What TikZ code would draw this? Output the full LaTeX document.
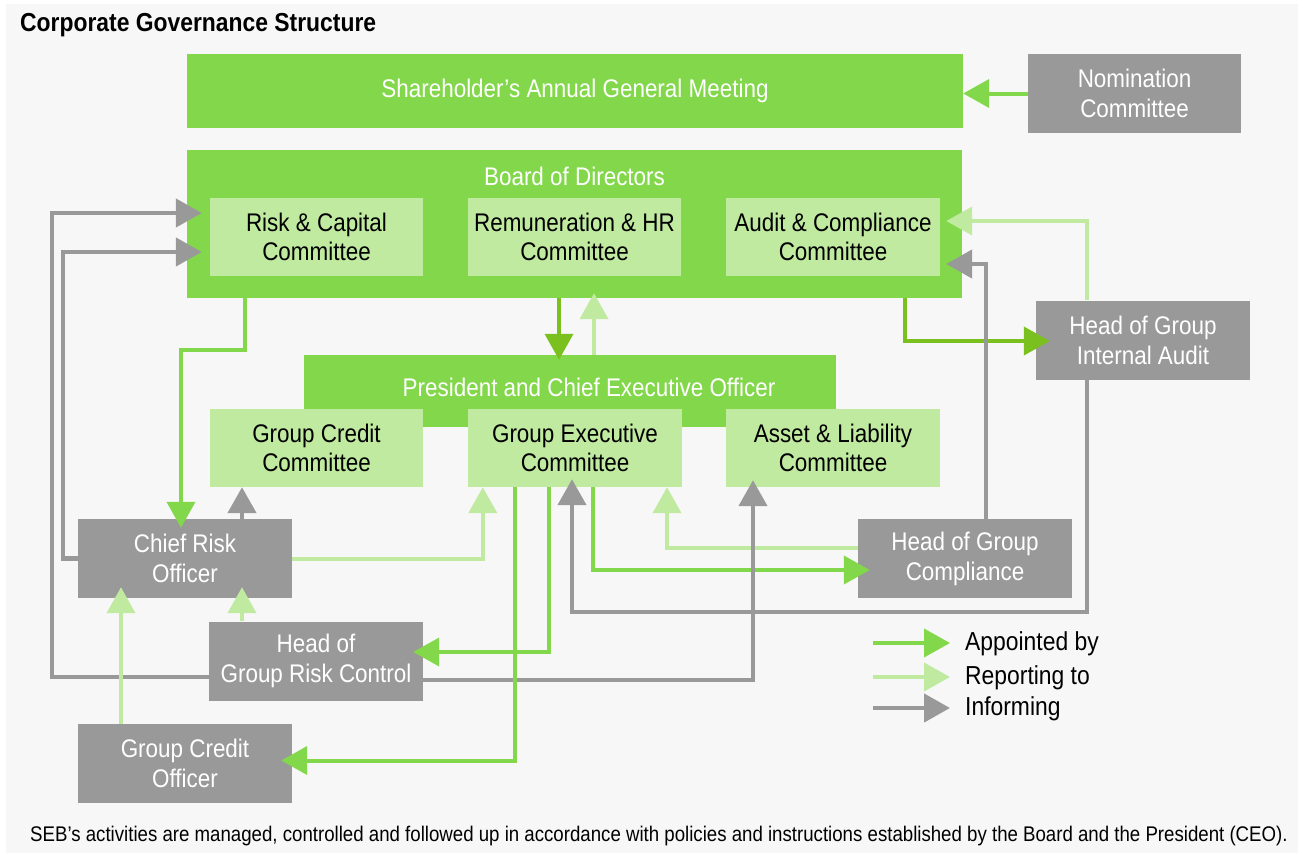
\documentclass[tikz,border=0pt]{standalone}
\usepackage{fontspec}
\setmainfont{Liberation Sans}[FakeStretch=0.88]
\usetikzlibrary{arrows.meta,calc}

\definecolor{govgreen}{RGB}{130,216,74}
\definecolor{darkgreen}{RGB}{122,192,31}
\definecolor{palegreen}{RGB}{192,234,160}
\definecolor{staffgray}{RGB}{153,153,153}
\definecolor{panel}{RGB}{247,247,247}

\begin{document}
\begin{tikzpicture}[x=1pt,y=-1pt,
    govbox/.style={fill=govgreen,text=white,inner sep=0pt,font=\fontsize{25.5}{29}\selectfont},
    govlabel/.style={text=white,inner sep=0pt,font=\fontsize{25.5}{29}\selectfont},
    combox/.style={fill=palegreen,text=black,minimum width=213pt,minimum height=78pt,align=center,inner sep=0pt,font=\fontsize{25.5}{29}\selectfont},
    staffbox/.style={fill=staffgray,text=white,minimum width=214pt,minimum height=79pt,align=center,inner sep=0pt,font=\fontsize{25.5}{30}\selectfont},
    appoint/.style={govgreen,line width=4pt,-{Triangle[length=26pt,width=28pt]}},
    appointdk/.style={darkgreen,line width=4pt,-{Triangle[length=26pt,width=28pt]}},
    report/.style={palegreen,line width=4pt,-{Triangle[length=26pt,width=28pt]}},
    inform/.style={staffgray,line width=4.5pt,-{Triangle[length=26pt,width=28pt]}},
    legtext/.style={anchor=west,inner sep=0pt,font=\fontsize{26}{30}\selectfont}
  ]
  \useasboundingbox (0,0) rectangle (1298,854);
  \fill[white] (0,0) rectangle (1298,854);
  \fill[panel] (6,4) rectangle (1298,853);

  \node[anchor=west,inner sep=0pt,font=\fontsize{26}{30}\selectfont\bfseries] (title) at (20,25) {Corporate Governance Structure};

  % top level
  \node[govbox,minimum width=776pt,minimum height=74pt] (agm) at (575,91) {Shareholder’s Annual General Meeting};
  \node[staffbox,minimum width=213pt] (nom) at (1134.5,93.5) {Nomination\\Committee};

  \node[govbox,minimum width=775pt,minimum height=148pt] (board) at (574.5,224) {};
  \node[govlabel] (boardlbl) at (574.5,176) {Board of Directors};
  \node[combox] (rcc) at (316.5,237) {Risk \& Capital\\Committee};
  \node[combox] (rem) at (574.5,237) {Remuneration \& HR\\Committee};
  \node[combox,minimum width=214pt] (acc) at (833,237) {Audit \& Compliance\\Committee};

  \node[govbox,minimum width=532pt,minimum height=72pt] (ceo) at (570,391) {};
  \node[govlabel] (ceolbl) at (589,387) {President and Chief Executive Officer};
  \node[combox] (gcc) at (316.5,448) {Group Credit\\Committee};
  \node[combox,minimum width=214pt] (gec) at (575,448) {Group Executive\\Committee};
  \node[combox,minimum width=214pt] (alc) at (833,448) {Asset \& Liability\\Committee};

  \node[staffbox] (hgia) at (1143,340) {Head of Group\\Internal Audit};
  \node[staffbox] (hgc) at (965,558.5) {Head of Group\\Compliance};
  \node[staffbox] (cro) at (185,558.5) {Chief Risk\\Officer};
  \node[staffbox] (hgrc) at (316,661) {Head of\\Group Risk Control};
  \node[staffbox] (gco) at (185,763.5) {Group Credit\\Officer};

  % connectors
  \draw[inform] ($(hgrc.west)+(0,16)$) -| ($(rcc.west)+(-158,-24)$) -- ($(rcc.west)+(-8,-24)$);
  \draw[inform] (cro.west) -| ($(rcc.west)+(-147,15)$) -- ($(rcc.west)+(-8,15)$);
  \draw[inform] ($(cro.north)+(57,0)$) -- ($(gcc.south)+(-74.5,0)$);
  \draw[report,shorten >=-11pt] ($(hgrc.north)+(-74,0)$) -- ($(cro.south)+(57,0)$);
  \draw[report,shorten >=-11pt] ($(gco.north)+(-64,0)$) -- ($(cro.south)+(-64,0)$);
  \draw[report] (cro.east) -| ($(gec.south west)+(15,0)$);
  \draw[appoint,shorten >=-9pt] ($(board.south west)+(58,0)$) -- ++(0,52) -| ($(cro.north)+(-4,0)$);
  \draw[appoint,shorten >=-12pt] ($(gec.south)+(18,0)$) |- ($(hgc.west)+(0,11.5)$);
  \draw[report] ($(hgc.west)+(0,-10.5)$) -| ($(gec.south)+(92,0)$);
  \draw[inform,shorten >=-8pt] ($(hgia.south)+(-56,0)$) |- ($(gec.south)+(-3,125)$) -- ($(gec.south)+(-3,0)$);
  \draw[inform,shorten >=-7pt] ($(hgrc.east)+(0,19)$) -| ($(alc.south)+(-80,0)$);
  \draw[appoint,shorten >=-10pt] ($(gec.south)+(-26,0)$) |- ($(hgrc.east)+(0,-9)$);
  \draw[appoint,shorten >=-11pt] ($(gec.south)+(-60,0)$) |- ($(gco.east)+(0,-3)$);
  \draw[appointdk,shorten >=-14pt] ($(board.south east)+(-57,0)$) |- ($(hgia.west)+(0,1)$);
  \draw[inform,shorten >=6pt] ($(hgc.north)+(21,0)$) |- ($(acc.east)+(0,27)$);
  \draw[report,shorten >=6pt] ($(hgia.north)+(-56,0)$) |- ($(acc.east)+(0,-16)$);
  \draw[appointdk,shorten >=-5pt] ($(board.south)+(-15.5,0)$) -- ($(ceo.north)+(-11,0)$);
  \draw[report,shorten >=-5pt] ($(ceo.north)+(24,0)$) -- ($(board.south)+(19.5,0)$);
  \draw[appoint] (nom.west) -- (nom.west -| agm.east);

  % legend
  \node[legtext] (lapp) at (965,644) {Appointed by};
  \node[legtext] (lrep) at (965,678) {Reporting to};
  \node[legtext] (linf) at (965,709) {Informing};
  \draw[appoint] ($(lapp.west)+(-92,-1)$) -- ($(lapp.west)+(-15,-1)$);
  \draw[report] ($(lrep.west)+(-92,-1)$) -- ($(lrep.west)+(-15,-1)$);
  \draw[inform] ($(linf.west)+(-92,-1)$) -- ($(linf.west)+(-15,-1)$);

  \node[inner sep=0pt,font=\fontsize{21.2}{25}\selectfont] (note) at (659,836) {SEB’s activities are managed, controlled and followed up in accordance with policies and instructions established by the Board and the President (CEO).};
\end{tikzpicture}
\end{document}
